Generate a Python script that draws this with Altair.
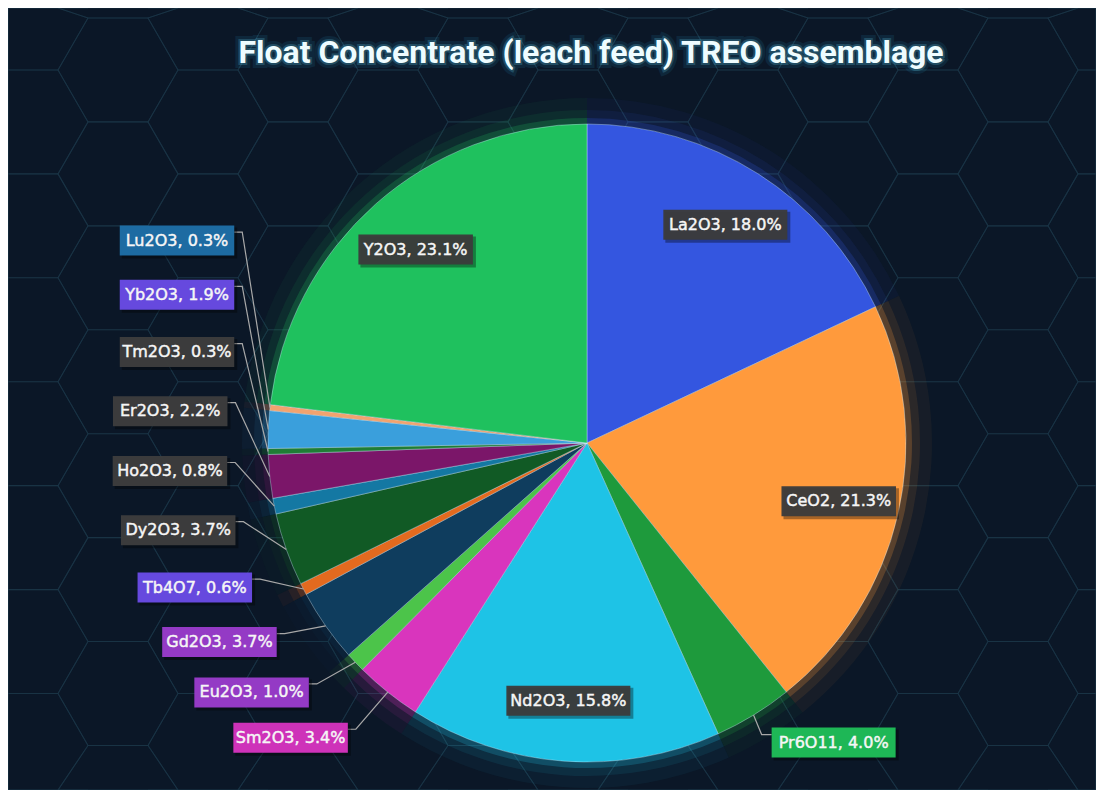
import math
import altair as alt
import pandas as pd

# ---------------- data ----------------
names = ["La2O3", "CeO2", "Pr6O11", "Nd2O3", "Sm2O3", "Eu2O3", "Gd2O3", "Tb4O7",
         "Dy2O3", "Ho2O3", "Er2O3", "Tm2O3", "Yb2O3", "Lu2O3", "Y2O3"]
values = [18.0, 21.3, 4.0, 15.8, 3.4, 1.0, 3.7, 0.6, 3.7, 0.8, 2.2, 0.3, 1.9, 0.3, 23.1]
slice_colors = ["#3456e0", "#ff9a3c", "#1e9a3c", "#1ec3e6", "#d935bd", "#4cc44a", "#0f3d5e",
                "#e36a1f", "#115a25", "#1478a3", "#7b1669", "#1f7d35", "#3a9fdc", "#f2a36f",
                "#1fc15e"]
box_colors = ["#3b3b3b", "#3b3b3b", "#1fbe58", "#3b3b3b", "#d634bf", "#9a3ccc", "#9a3ccc",
              "#6a4ce6", "#3d3d3d", "#3d3d3d", "#3d3d3d", "#3d3d3d", "#6a4ce6", "#1e6fa8",
              "#3b3b3b"]
title_text = "Float Concentrate (leach feed) TREO assemblage"

# ---------------- layout ----------------
W, H = 1088, 782
CX, CY, R = 579, 435, 319
BOX_H = 30

total = sum(values)
rows = []
cum = 0.0
for i, (n, v) in enumerate(zip(names, values)):
    a0 = cum / total * 360.0
    cum += v
    a1 = cum / total * 360.0
    rows.append(dict(order=i, name=n, value=v, mid=(a0 + a1) / 2.0,
                     label=f"{n}, {v:.1f}%", box=box_colors[i]))
df = pd.DataFrame(rows)


def polar(a_deg, r):
    a = math.radians(a_deg)
    return CX + r * math.sin(a), CY - r * math.cos(a)


lab = []
lines = []
prev = -1e9
left = sorted([r for r in rows if r["value"] < 10 and r["mid"] > 180], key=lambda r: r["mid"])
for r in rows:
    w = 9.5 * len(r["label"]) + 10
    if r["value"] >= 10:
        x, y = polar(r["mid"], 0.81 * R)
        lab.append(dict(r, x=x, y=y, w=w))
    elif r["mid"] <= 180:
        x, y = polar(r["mid"] - 8, 388)
        lab.append(dict(r, x=x, y=y, w=w))
        ex, ey = polar(r["mid"], R)
        sy = y - BOX_H / 2 + 7
        for k, (px, py) in enumerate([(ex, ey), (x - w / 2 - 10, sy), (x - w / 2, sy)]):
            lines.append(dict(name=r["name"], k=k, lx=px, ly=py))
for r in left:
    w = 9.5 * len(r["label"]) + 10
    a = max(r["mid"] + 6.5, prev + 8.2)
    prev = a
    x, y = polar(a, 418)
    if y < CY + 60:
        x = min(x, CX - 410)
    lab.append(dict(r, x=x, y=y, w=w))
    ex, ey = polar(r["mid"], R)
    sy = y - BOX_H / 2 + 6.5
    for k, (px, py) in enumerate([(x + w / 2, sy), (x + w / 2 + 8, sy), (ex, ey)]):
        lines.append(dict(name=r["name"], k=k, lx=px, ly=py))

ldf = pd.DataFrame(lab)
ldf["x0"] = ldf["x"] - ldf["w"] / 2
ldf["x1"] = ldf["x"] + ldf["w"] / 2
ldf["y0"] = ldf["y"] - BOX_H / 2
ldf["y1"] = ldf["y"] + BOX_H / 2
ldf["sx0"] = ldf["x0"] + 2
ldf["sx1"] = ldf["x1"] + 3
ldf["sy0"] = ldf["y0"] + 2
ldf["sy1"] = ldf["y1"] + 3
linedf = pd.DataFrame(lines)

# decorative hexagon background grid (flat-top hexagons)
HS = 60.0
hex_pts = []
hid = 0
for ci in range(-1, int(W / (1.5 * HS)) + 2):
    for rj in range(-1, int(H / (math.sqrt(3) * HS)) + 2):
        hx = ci * 1.5 * HS + 20
        hy = rj * math.sqrt(3) * HS + (ci % 2) * math.sqrt(3) / 2 * HS + 10
        for k in range(7):
            a = math.radians(60 * (k % 6))
            px = hx + HS * math.cos(a)
            py = hy + HS * math.sin(a)
            hex_pts.append(dict(h=hid, k=k, hx=min(max(px, 0), W), hy=min(max(py, 0), H)))
        hid += 1
hexdf = pd.DataFrame(hex_pts)

xs = alt.Scale(domain=[0, W], nice=False, zero=False)
ys = alt.Scale(domain=[0, H], nice=False, zero=False, reverse=True)
col = alt.Color("name:N", scale=alt.Scale(domain=names, range=slice_colors), legend=None)
theta = alt.Theta("value:Q", stack=True)
order = alt.Order("order:Q")

hexes = alt.Chart(hexdf).mark_line(color="#1d3a4c", strokeWidth=1.1, opacity=0.55).encode(
    x=alt.X("hx:Q", scale=xs, axis=None),
    y=alt.Y("hy:Q", scale=ys, axis=None),
    detail="h:N", order="k:Q")

base = alt.Chart(df)
glow3 = base.mark_arc(radius=R + 26, radius2=R, opacity=0.05).encode(
    theta=theta, order=order, color=col, x=alt.value(CX), y=alt.value(CY))
glow2 = base.mark_arc(radius=R + 14, radius2=R, opacity=0.09).encode(
    theta=theta, order=order, color=col, x=alt.value(CX), y=alt.value(CY))
glow1 = base.mark_arc(radius=R + 6, radius2=R, opacity=0.22).encode(
    theta=theta, order=order, color=col, x=alt.value(CX), y=alt.value(CY))
pie = base.mark_arc(radius=R, stroke="#cfefff", strokeWidth=0.7, strokeOpacity=0.55).encode(
    theta=theta, order=order, color=col, x=alt.value(CX), y=alt.value(CY))

leader = alt.Chart(linedf).mark_line(color="#a8a8a8", strokeWidth=1.2).encode(
    x=alt.X("lx:Q", scale=xs, axis=None),
    y=alt.Y("ly:Q", scale=ys, axis=None),
    detail="name:N", order="k:Q")

shadows = alt.Chart(ldf).mark_rect(color="#000000", opacity=0.35).encode(
    x=alt.X("sx0:Q", scale=xs, axis=None), x2="sx1:Q",
    y=alt.Y("sy0:Q", scale=ys, axis=None), y2="sy1:Q")

boxes = alt.Chart(ldf).mark_rect(opacity=0.96).encode(
    x=alt.X("x0:Q", scale=xs, axis=None), x2="x1:Q",
    y=alt.Y("y0:Q", scale=ys, axis=None), y2="y1:Q",
    color=alt.Color("box:N", scale=None))

texts = alt.Chart(ldf).mark_text(font="DejaVu Sans", fontSize=16,
                                 color="#f6f6f6", stroke="#f6f6f6", strokeWidth=0.45,
                                 baseline="middle", align="center").encode(
    x=alt.X("x:Q", scale=xs, axis=None),
    y=alt.Y("y:Q", scale=ys, axis=None),
    text="label:N")

TX, TY, TFS = 583, 45, 32
tdf = pd.DataFrame({"t": [title_text]})
tglow2 = alt.Chart(tdf).mark_text(font="Roboto", fontSize=TFS, fontWeight="bold",
                                  color="#2fc8ff", stroke="#2fc8ff", strokeWidth=10,
                                  opacity=0.09, baseline="middle").encode(
    x=alt.value(TX), y=alt.value(TY), text="t:N")
tglow1 = alt.Chart(tdf).mark_text(font="Roboto", fontSize=TFS, fontWeight="bold",
                                  color="#6fe0ff", stroke="#6fe0ff", strokeWidth=4,
                                  opacity=0.2, baseline="middle").encode(
    x=alt.value(TX), y=alt.value(TY), text="t:N")
title = alt.Chart(tdf).mark_text(font="Roboto", fontSize=TFS, fontWeight="bold",
                                 color="#eefcff", baseline="middle").encode(
    x=alt.value(TX), y=alt.value(TY), text="t:N")

chart = alt.layer(hexes, glow3, glow2, glow1, pie, leader, shadows, boxes, texts,
                  tglow2, tglow1, title).properties(
    width=W, height=H, padding=0, background="#0b1727",
    autosize=alt.AutoSizeParams(type="none")
).configure_view(stroke=None)

chart.save("out.html", embed_options={"renderer": "svg", "actions": False})
